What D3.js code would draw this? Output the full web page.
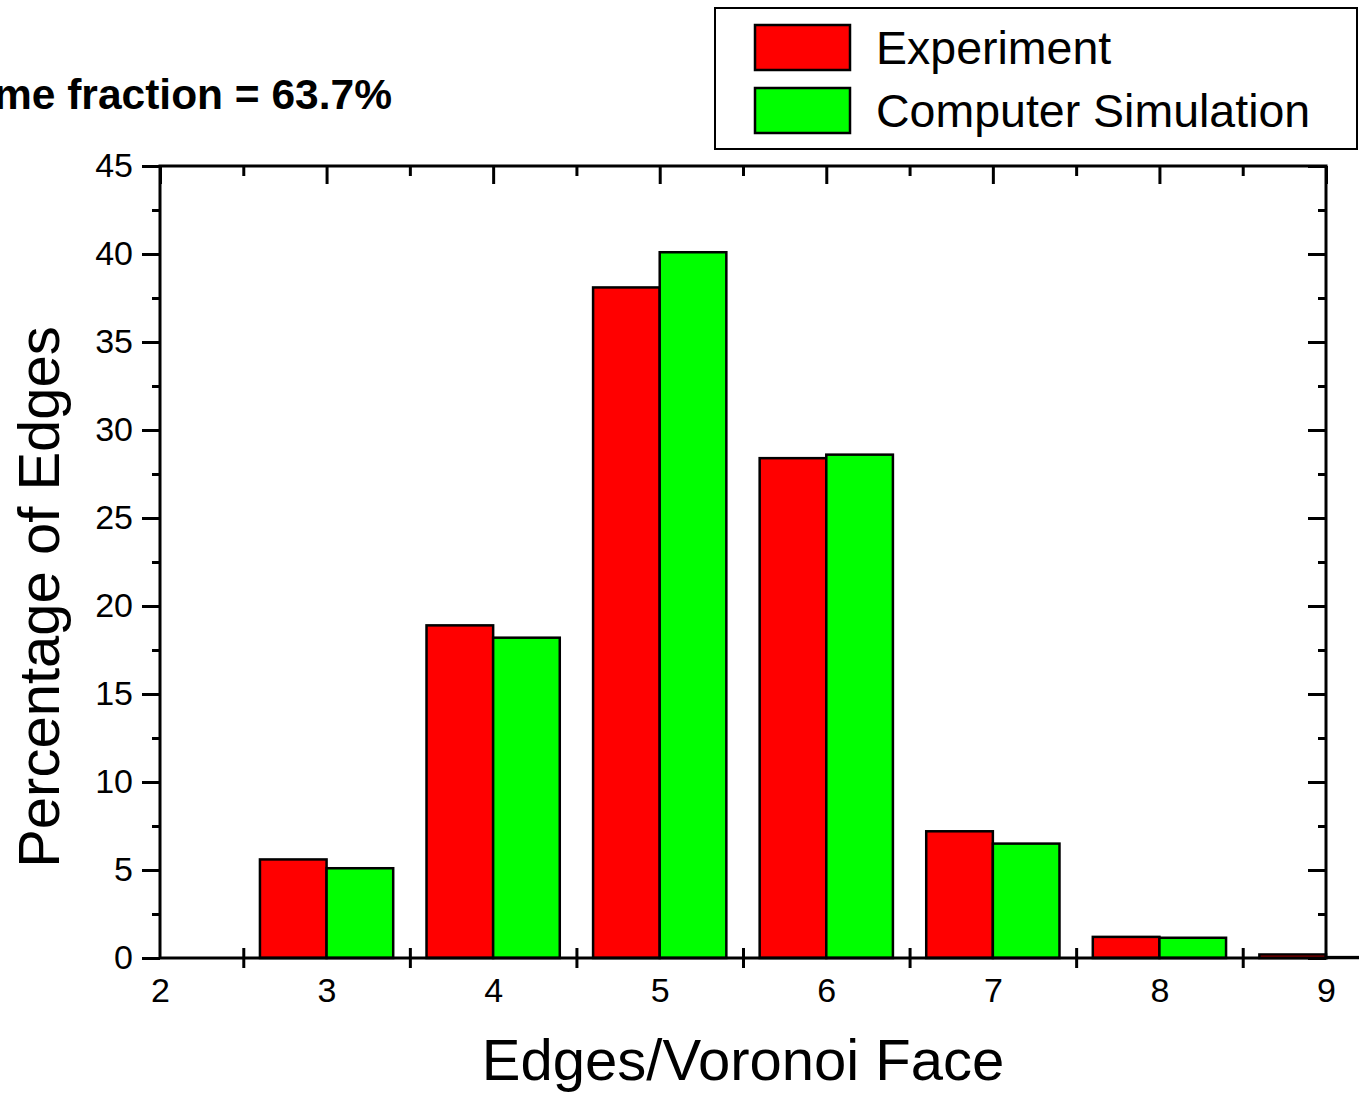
<!DOCTYPE html>
<html>
<head>
<meta charset="utf-8">
<script src="https://cdn.jsdelivr.net/npm/d3@7"></script>
<style>
  body { margin: 0; background: #fff; }
  svg { display: block; font-family: "Liberation Sans", Arial, sans-serif; }
</style>
</head>
<body>
<div id="chart"></div>
<script>
// data
var edges = [3, 4, 5, 6, 7, 8, 9];
var experiment = [5.6, 18.9, 38.1, 28.4, 7.2, 1.2, 0.2];
var simulation = [5.1, 18.2, 40.1, 28.6, 6.5, 1.15, 0.05];
var seriesNames = ["Experiment", "Computer Simulation"];
var seriesColors = ["#ff0000", "#00ff00"];
var xTicks = [2, 3, 4, 5, 6, 7, 8, 9];
var yTicks = [0, 5, 10, 15, 20, 25, 30, 35, 40, 45];

var svgWidth = 1359;
var svgHeight = 1094;

var margin = { top: 166, right: 33, bottom: 136, left: 160 };
var chartWidth = svgWidth - margin.left - margin.right;
var chartHeight = svgHeight - margin.top - margin.bottom;

var svg = d3.select("#chart").append("svg")
  .attr("width", svgWidth)
  .attr("height", svgHeight);

var chartGroup = svg.append("g")
  .attr("transform", `translate(${margin.left}, ${margin.top})`);

var xScale = d3.scaleLinear().domain([2, 9]).range([0, chartWidth]);
var yScale = d3.scaleLinear().domain([0, 45]).range([chartHeight, 0]);
var barW = 0.4;

// ----- bars -----
function drawBars(values, color, offset) {
  chartGroup.append("g").selectAll("rect")
    .data(values)
    .enter()
    .append("rect")
    .attr("x", (d, i) => xScale(edges[i] + offset))
    .attr("width", xScale(barW) - xScale(0))
    .attr("y", d => yScale(d))
    .attr("height", d => yScale(0) - yScale(d))
    .attr("fill", color)
    .attr("stroke", "#000")
    .attr("stroke-width", 2.5);
}
drawBars(experiment, seriesColors[0], -barW);
drawBars(simulation, seriesColors[1], 0);

// ----- axes -----
var halfTicks = d3.range(2.5, 9, 1);
var minorY = d3.range(2.5, 45, 5);

// left axis
var left = chartGroup.append("g")
  .call(d3.axisLeft(yScale).tickValues(yTicks).tickSize(18).tickPadding(9).tickFormat(d3.format("d")));
left.selectAll("text").attr("font-size", 34).attr("fill", "#000");
chartGroup.append("g")
  .call(d3.axisLeft(yScale).tickValues(minorY).tickSize(8).tickFormat(""));

// right axis (ticks inside)
chartGroup.append("g")
  .attr("transform", `translate(${chartWidth}, 0)`)
  .call(d3.axisLeft(yScale).tickValues(yTicks).tickSize(18).tickFormat(""));
chartGroup.append("g")
  .attr("transform", `translate(${chartWidth}, 0)`)
  .call(d3.axisLeft(yScale).tickValues(minorY).tickSize(8).tickFormat(""));

// top axis (ticks inside)
chartGroup.append("g")
  .call(d3.axisBottom(xScale).tickValues(xTicks).tickSize(18).tickFormat(""));
chartGroup.append("g")
  .call(d3.axisBottom(xScale).tickValues(halfTicks).tickSize(10).tickFormat(""));

// bottom axis: labels at integers, crossing ticks at halves
var bottom = chartGroup.append("g")
  .attr("transform", `translate(0, ${chartHeight})`)
  .call(d3.axisBottom(xScale).tickValues(xTicks).tickSize(0).tickPadding(20).tickFormat(d3.format("d")));
bottom.selectAll("text").attr("font-size", 34).attr("fill", "#000");
chartGroup.append("g")
  .attr("transform", `translate(0, ${chartHeight - 10})`)
  .call(d3.axisBottom(xScale).tickValues(halfTicks).tickSize(20).tickFormat(""));

chartGroup.selectAll(".domain").remove();
chartGroup.selectAll(".tick line").attr("stroke", "#000").attr("stroke-width", 3);

// frame
chartGroup.append("rect")
  .attr("width", chartWidth)
  .attr("height", chartHeight)
  .attr("fill", "none")
  .attr("stroke", "#000")
  .attr("stroke-width", 3);

// axis titles
svg.append("text")
  .attr("transform", "translate(59, 597) rotate(-90)")
  .attr("text-anchor", "middle")
  .attr("font-size", 58)
  .text("Percentage of Edges");

svg.append("text")
  .attr("x", margin.left + chartWidth / 2)
  .attr("y", 1080)
  .attr("text-anchor", "middle")
  .attr("font-size", 58)
  .text("Edges/Voronoi Face");

// note, cut off at the left edge as in the original figure
svg.append("text")
  .attr("x", 392)
  .attr("y", 109)
  .attr("text-anchor", "end")
  .attr("font-size", 42.5)
  .attr("font-weight", "bold")
  .text("Volume fraction = 63.7%");

// legend
var legend = svg.append("g");
legend.append("rect")
  .attr("x", 715).attr("y", 8)
  .attr("width", 642).attr("height", 141)
  .attr("fill", "#fff")
  .attr("stroke", "#000")
  .attr("stroke-width", 2);
seriesNames.forEach(function(name, i) {
  legend.append("rect")
    .attr("x", 755).attr("y", 25 + i * 63)
    .attr("width", 95).attr("height", 45)
    .attr("fill", seriesColors[i])
    .attr("stroke", "#000")
    .attr("stroke-width", 2.5);
  legend.append("text")
    .attr("x", 876).attr("y", 64 + i * 63)
    .attr("font-size", 46.5)
    .text(name);
});
</script>
</body>
</html>
